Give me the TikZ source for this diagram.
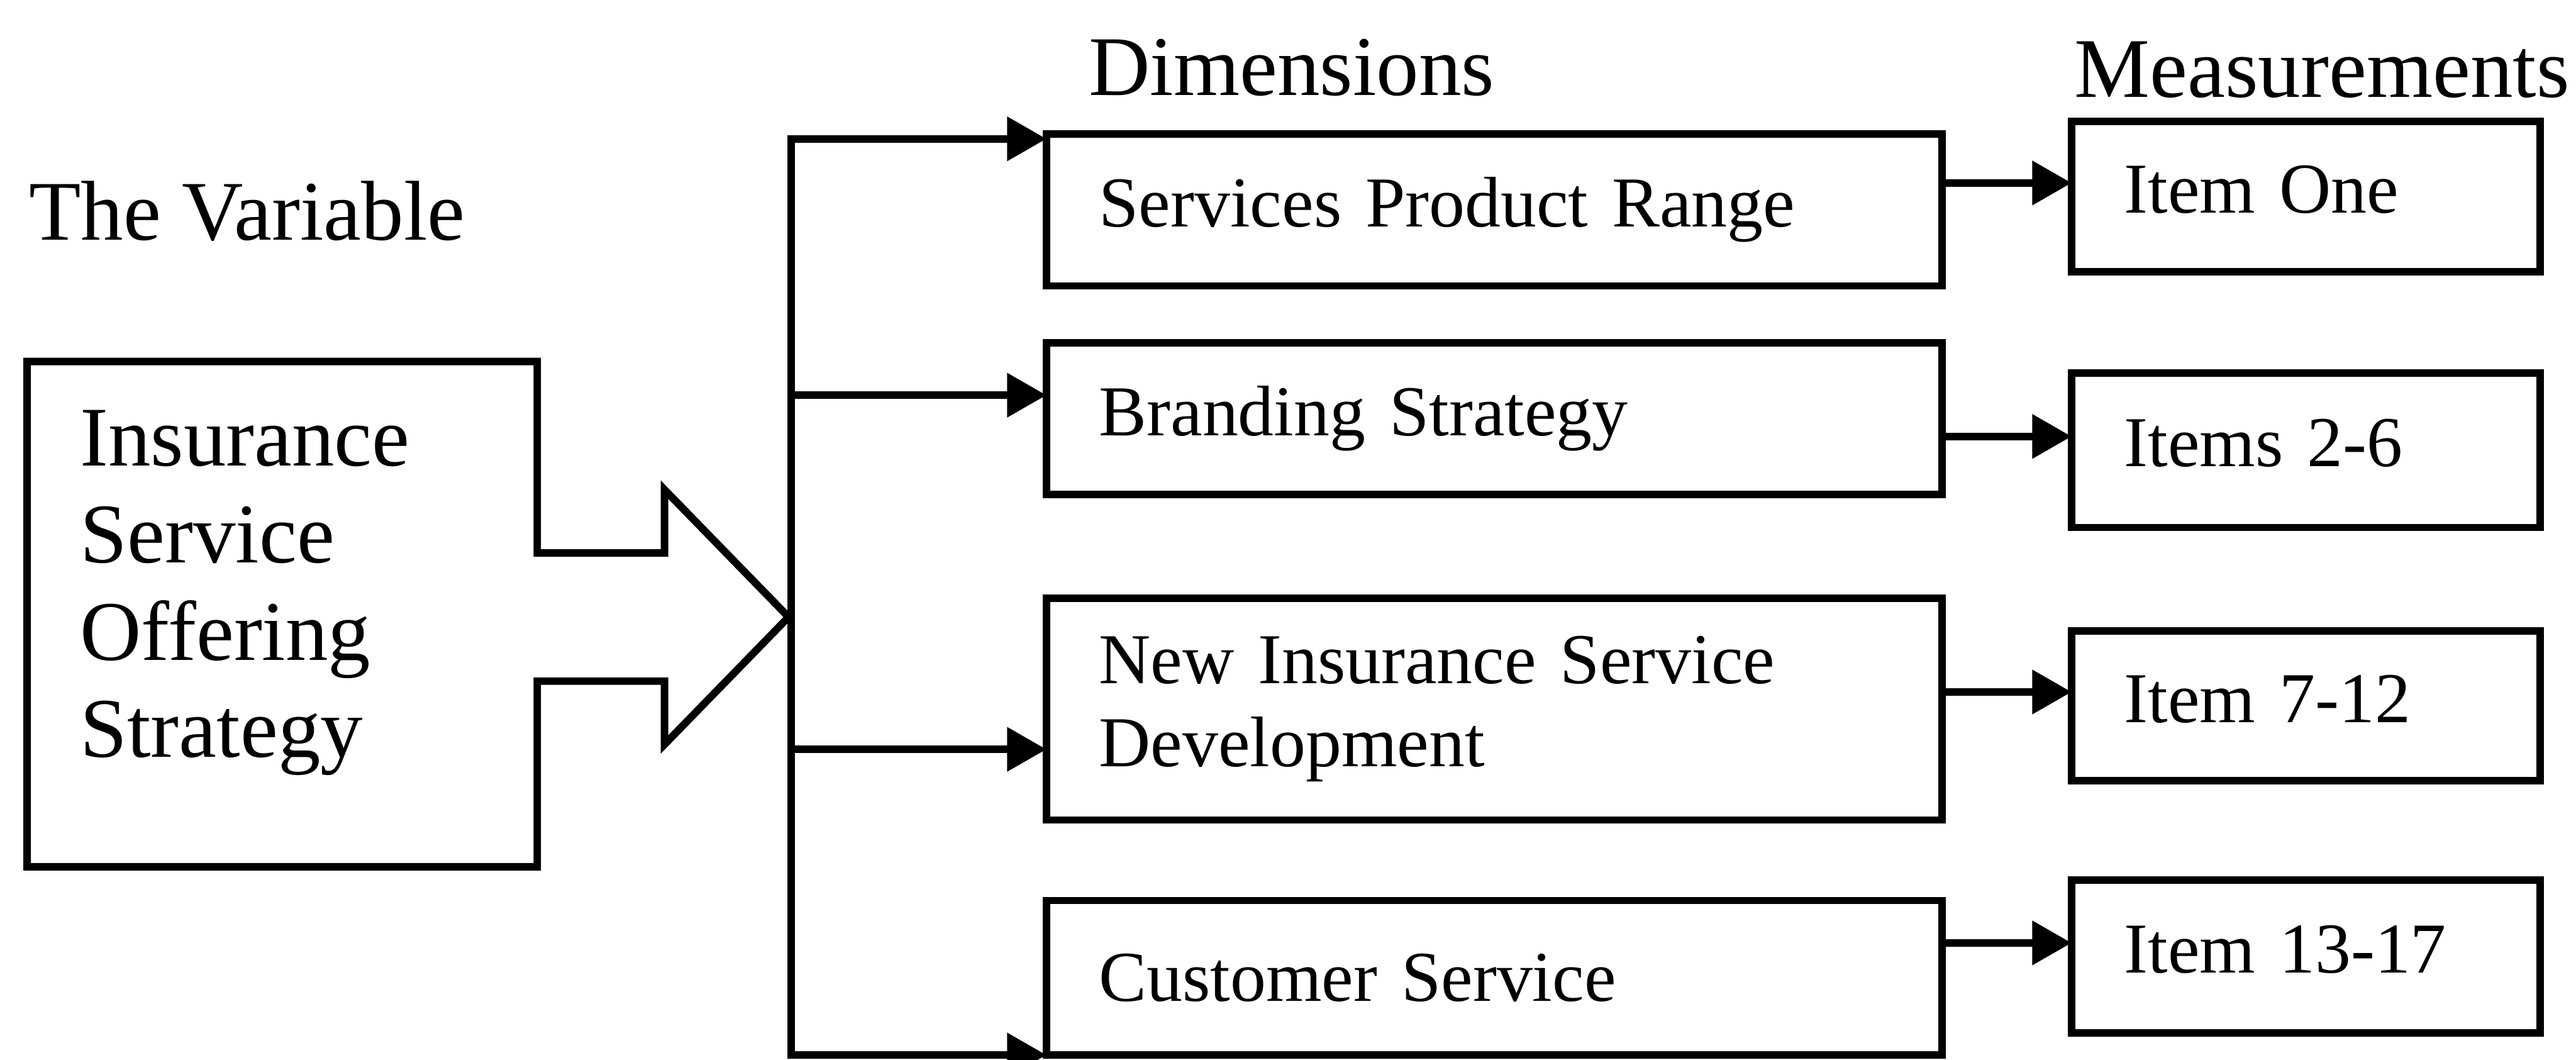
\documentclass[tikz,border=0pt]{standalone}
\usepackage{fontspec}
\setmainfont{Liberation Serif}
\usetikzlibrary{arrows.meta}

\begin{document}
\begin{tikzpicture}[scale=1,
  line/.style={line width=1.3pt},
  arr/.style={line width=1.3pt,-{Triangle[length=0.24cm,width=0.26cm]}},
  head/.style={anchor=base west,inner sep=0pt,font=\fontsize{14.7}{16.8}\selectfont},
  dimbox/.style={draw,line width=1.3pt,outer sep=0pt,anchor=north west,text width=4.81cm,
    inner xsep=0.32cm,align=left,font=\fontsize{12.4}{14.4}\selectfont},
  itembox/.style={draw,line width=1.3pt,outer sep=0pt,anchor=north west,text width=2.21cm,
    inner xsep=0.32cm,text height=0.29cm,text depth=0.09cm,align=left,
    font=\fontsize{12.4}{14.4}\selectfont}]

\useasboundingbox (0,0) rectangle (15.68,-6.45);

% column titles
\node[head] (hvar) at (0.17,-1.46) {The Variable};
\node[head] (hdim) at (6.62,-0.58) {Dimensions};
\node[head] (hmeas) at (12.62,-0.59) {Measurements};

% the variable with its block arrow
\node[anchor=north west,inner sep=0pt,align=left,font=\fontsize{14.7}{16.8}\selectfont] (var)
  at (0.48,-2.49) {Insurance\\Service\\Offering\\Strategy};
\coordinate (tip) at (4.80,-3.755);
\draw[line,line join=miter] (0.165,-2.20) -- (3.27,-2.20) -- (3.27,-3.365) -- (4.045,-3.365)
  -- (4.045,-2.98) -- (tip) -- (4.045,-4.53) -- (4.045,-4.145) -- (3.27,-4.145)
  -- (3.27,-5.275) -- (0.165,-5.275) -- cycle;

% dimensions
\node[dimbox,minimum height=0.925cm] (d1) at (6.37,-0.815) {Services Product Range};
\node[dimbox,minimum height=0.925cm] (d2) at (6.37,-2.085) {Branding Strategy};
\node[dimbox,minimum height=1.35cm] (d3) at (6.37,-3.64) {New Insurance Service\\Development};
\node[dimbox,minimum height=0.94cm] (d4) at (6.37,-5.48) {Customer Service};

% measurements
\node[itembox,minimum height=0.915cm] (i1) at (12.61,-0.74) {Item One};
\node[itembox,minimum height=0.94cm] (i2) at (12.61,-2.27) {Items 2-6};
\node[itembox,minimum height=0.91cm] (i3) at (12.61,-3.84) {Item 7-12};
\node[itembox,minimum height=0.93cm] (i4) at (12.61,-5.357) {Item 13-17};

% branching line
\coordinate (b1) at (4.815,-0.845);
\coordinate (b2) at (4.815,-2.405);
\coordinate (b3) at (4.815,-4.56);
\coordinate (b4) at (b1 |- d4.south);
\draw[line,line cap=rect] (b1) -- (b4);

\draw[arr] (b1) -- (b1 -| d1.west);
\draw[arr] (b2) -- (b2 -| d2.west);
\draw[arr] (b3) -- (b3 -| d3.west);
\draw[arr] (b4) -- (d4.south west);

\foreach \i in {1,...,4}
{
\draw[arr] ([yshift=0.84mm]i\i.west -| d\i.east) -- ([yshift=0.84mm]i\i.west);
}
\end{tikzpicture}
\end{document}
